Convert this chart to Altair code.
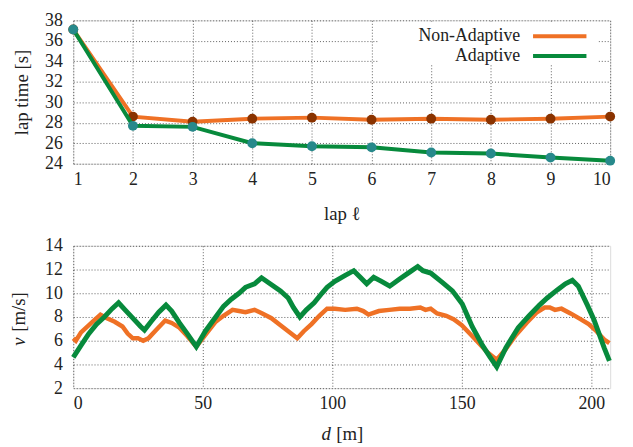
import altair as alt
import pandas as pd

# ---------------- data ----------------
laps = [1, 2, 3, 4, 5, 6, 7, 8, 9, 10]
lap_non_adaptive = [37.1, 28.6, 28.1, 28.4, 28.5, 28.3, 28.4, 28.3, 28.4, 28.6]
lap_adaptive = [37.1, 27.7, 27.6, 26.0, 25.7, 25.6, 25.1, 25.0, 24.6, 24.3]

d_non = [0, 1, 3, 5, 7, 9, 10.5, 13, 16, 19, 21, 23, 25, 27, 29, 32, 35.5, 38, 41, 44,
         47.5, 51, 55, 58, 61.5, 64, 66.5, 70, 73, 76.5, 80, 83, 86.5, 89, 92, 95, 98,
         101, 105, 109.5, 112, 114, 118, 122, 126, 130, 134, 136, 138, 140.5, 144, 147,
         150, 154, 157, 160, 163.5, 167, 171, 175, 179, 182, 184, 186, 188.5, 192, 196,
         199, 202, 205, 207]
v_non = [6.2, 6.0, 6.7, 7.1, 7.5, 7.9, 8.2, 7.9, 7.6, 7.2, 6.6, 6.2, 6.2, 6.0, 6.2, 6.9,
         7.7, 7.5, 7.1, 6.4, 5.5, 6.5, 7.6, 8.1, 8.6, 8.5, 8.4, 8.6, 8.3, 7.9, 7.3, 6.8,
         6.2, 6.8, 7.4, 8.1, 8.7, 8.7, 8.6, 8.7, 8.5, 8.2, 8.5, 8.6, 8.7, 8.7, 8.8, 8.6,
         8.7, 8.3, 8.1, 7.8, 7.3, 6.4, 5.7, 5.0, 4.4, 5.3, 6.5, 7.5, 8.4, 8.8, 8.8, 8.6,
         8.7, 8.3, 7.8, 7.4, 6.8, 6.1, 5.8]

d_ad = [0, 3, 6, 9, 12, 15, 17.5, 20, 23, 26, 27.5, 30, 33, 35.8, 38, 41, 44, 47.5, 51,
        55, 58, 61, 64, 66.5, 70, 72.7, 76, 80, 83, 85, 87.5, 90, 93, 96, 98, 101, 105,
        108.3, 111, 113.3, 116, 119, 122.2, 126, 130, 133, 135, 138, 142.6, 146.4, 150.2,
        154, 158, 161, 163.5, 167, 171.8, 176, 180, 183, 187, 190, 192.7, 195, 198.5,
        201, 203, 205, 207]
v_ad = [4.6, 5.6, 6.6, 7.4, 8.0, 8.7, 9.2, 8.6, 7.9, 7.2, 6.9, 7.6, 8.4, 9.0, 8.5, 7.5,
        6.6, 5.5, 6.8, 8.0, 8.9, 9.5, 10.0, 10.5, 10.8, 11.3, 10.8, 10.2, 9.6, 8.8, 8.0,
        8.6, 9.2, 10.0, 10.5, 11.0, 11.5, 11.9, 11.3, 10.8, 11.35, 11.0, 10.6, 11.2, 11.8,
        12.25, 11.9, 11.7, 10.9, 10.2, 9.1, 7.2, 5.6, 4.6, 3.8, 5.4, 7.1, 8.1, 9.0, 9.6,
        10.3, 10.8, 11.1, 10.6, 9.0, 7.8, 6.6, 5.4, 4.3]

legend_labels = ["Non-Adaptive", "Adaptive"]

# ---------------- style ----------------
ORANGE = "#ef7125"
GREEN = "#078a3c"
BROWN = "#8a3300"
TEAL = "#27898b"
FONT = "Liberation Serif"
TXT = "#222222"
W = 543
H1 = 145
H2 = 144

top_df = pd.DataFrame({"lap": laps, "non": lap_non_adaptive, "ad": lap_adaptive})
non_df = pd.DataFrame({"d": d_non, "v": v_non})
ad_df = pd.DataFrame({"d": d_ad, "v": v_ad})
one_df = pd.DataFrame({"k": [0]})

ax_common = dict(grid=True, gridDash=[1, 2], gridColor="#000000", gridOpacity=0.8,
                 gridWidth=0.8, domain=False, ticks=False, labelFont=FONT,
                 labelFontSize=18, labelColor=TXT, titleFont=FONT,
                 titleFontSize=19, titleFontWeight="normal", titleColor=TXT)

xt = alt.X("lap:Q", scale=alt.Scale(domain=[1, 10], nice=False),
           axis=alt.Axis(values=laps, title="lap ℓ", labelPadding=7, titlePadding=16,
                         **ax_common))

def yt(field):
    return alt.Y(field + ":Q", scale=alt.Scale(domain=[24, 38], nice=False),
                 axis=alt.Axis(values=list(range(24, 39, 2)), title="lap time [s]",
                               labelPadding=11, titlePadding=13, **ax_common))

base_top = alt.Chart(top_df)
legend_text = dict(font=FONT, fontSize=18, align="right", baseline="middle", color=TXT)
top_layers = [
    base_top.mark_line(color=ORANGE, strokeWidth=4).encode(x=xt, y=yt("non")),
    base_top.mark_circle(color=BROWN, size=100, opacity=1).encode(x=xt, y=yt("non")),
    base_top.mark_line(color=GREEN, strokeWidth=4).encode(x=xt, y=yt("ad")),
    base_top.mark_circle(color=TEAL, size=100, opacity=1).encode(x=xt, y=yt("ad")),
    alt.Chart(one_df).mark_rect(color="white").encode(
        x=alt.value(309), x2=alt.value(531), y=alt.value(1.5), y2=alt.value(45)),
    alt.Chart(one_df).mark_text(text=legend_labels[0], **legend_text).encode(
        x=alt.value(452), y=alt.value(16)),
    alt.Chart(one_df).mark_text(text=legend_labels[1], **legend_text).encode(
        x=alt.value(452), y=alt.value(36)),
    alt.Chart(one_df).mark_rule(color=ORANGE, strokeWidth=4).encode(
        x=alt.value(465), x2=alt.value(519), y=alt.value(16)),
    alt.Chart(one_df).mark_rule(color=GREEN, strokeWidth=4).encode(
        x=alt.value(465), x2=alt.value(519), y=alt.value(36)),
]
top = alt.layer(*top_layers).properties(width=W, height=H1)

xb = alt.X("d:Q", scale=alt.Scale(domain=[0, 207.3], nice=False),
           axis=alt.Axis(values=[0, 50, 100, 150, 200], title=None, labelPadding=7,
                         **ax_common))
yb = alt.Y("v:Q", scale=alt.Scale(domain=[2, 14], nice=False),
           axis=alt.Axis(values=list(range(2, 15, 2)), title=None, labelPadding=11,
                         **ax_common))

title_txt = dict(font=FONT, fontSize=19, color=TXT, baseline="middle", align="left")
bottom = alt.layer(
    alt.Chart(non_df).mark_line(color=ORANGE, strokeWidth=4.5).encode(x=xb, y=yb),
    alt.Chart(ad_df).mark_line(color=GREEN, strokeWidth=5).encode(x=xb, y=yb),
    # y-axis title: italic v + [m/s]
    alt.Chart(one_df).mark_text(text="v", fontStyle="italic", angle=270, **title_txt).encode(
        x=alt.value(-55), y=alt.value(101)),
    alt.Chart(one_df).mark_text(text="[m/s]", angle=270, **title_txt).encode(
        x=alt.value(-55), y=alt.value(87)),
    # x-axis title: italic d + [m]
    alt.Chart(one_df).mark_text(text="d", fontStyle="italic", **title_txt).encode(
        x=alt.value(251), y=alt.value(190)),
    alt.Chart(one_df).mark_text(text="[m]", **title_txt).encode(
        x=alt.value(266), y=alt.value(190)),
).properties(width=W, height=H2)

chart = alt.vconcat(top, bottom, spacing=12).configure_view(
    stroke="#111111", strokeWidth=1.6
).configure(padding={"left": 1, "top": 0, "right": 5, "bottom": 0}, background="white")

chart.save("out.html", embed_options={"renderer": "svg", "actions": False})
